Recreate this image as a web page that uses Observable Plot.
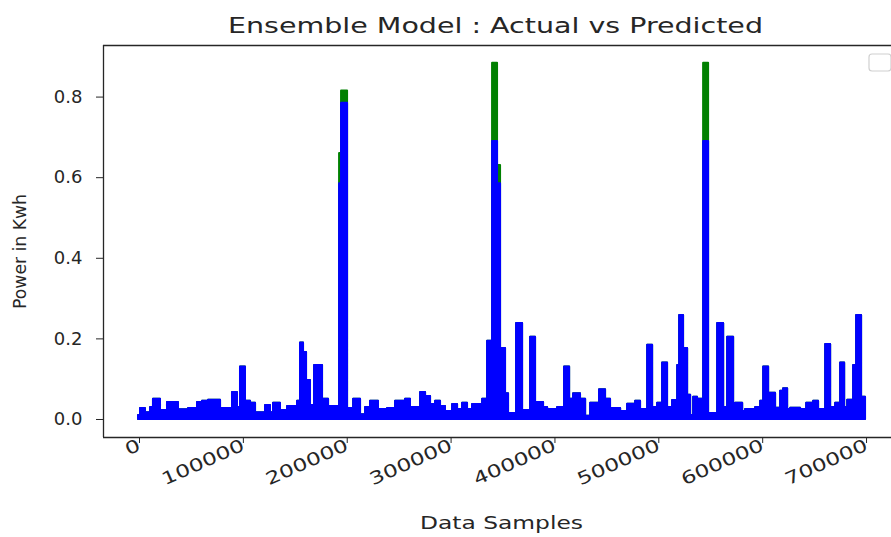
<!DOCTYPE html>
<html>
<head>
<meta charset="utf-8">
<script src="https://cdn.jsdelivr.net/npm/d3@7"></script>
<script src="https://cdn.jsdelivr.net/npm/@observablehq/plot@0.6"></script>
<style>
  html, body { margin: 0; padding: 0; background: #fff; }
  svg { display: block; }
</style>
</head>
<body>
<div id="chart"></div>
<script>
// Sample index (step start) where the plotted envelope changes
const samples = [0, 1900, 6700, 11600, 14400, 21200, 27900, 38500, 48200, 56800,
  61600, 67400, 79000, 90500, 95300, 98200, 103000, 107900, 112700, 122300,
  127100, 130000, 136700, 143500, 153100, 156000, 158900, 161800, 165600, 169500,
  177200, 183000, 193600, 195500, 201300, 207100, 213800, 218600, 223400, 231100,
  239800, 247500, 257100, 261900, 271600, 276400, 281200, 286000, 290800, 295600,
  302400, 307200, 312000, 316800, 321600, 331300, 336100, 340900, 345700, 348600,
  353400, 356300, 364000, 369800, 377500, 382300, 390000, 393900, 403500, 410200,
  415100, 418900, 425600, 430500, 435300, 443900, 449700, 454500, 464200, 470900,
  478600, 483400, 490200, 495000, 499800, 504600, 509400, 514200, 519100, 521000,
  524800, 528700, 531600, 534500, 538300, 544100, 548900, 557600, 563400, 567200,
  573000, 574900, 581700, 584500, 594200, 599000, 601900, 606700, 613400, 618200,
  621100, 625000, 627900, 637500, 643300, 650000, 654800, 661600, 666400, 671200,
  676000, 679900, 682800, 688500, 691400, 696200, 700000];

// Predicted power (blue)
const predicted = [0.010, 0.027, 0.017, 0.030, 0.050, 0.022, 0.042, 0.024, 0.027, 0.042,
  0.045, 0.048, 0.027, 0.067, 0.030, 0.130, 0.045, 0.040, 0.017, 0.035,
  0.017, 0.040, 0.022, 0.032, 0.045, 0.190, 0.166, 0.097, 0.035, 0.134,
  0.050, 0.032, 0.585, 0.785, 0.027, 0.050, 0.012, 0.030, 0.045, 0.025,
  0.027, 0.045, 0.050, 0.030, 0.067, 0.057, 0.037, 0.045, 0.032, 0.020,
  0.037, 0.025, 0.040, 0.025, 0.037, 0.050, 0.194, 0.690, 0.585, 0.176,
  0.064, 0.015, 0.238, 0.022, 0.204, 0.042, 0.030, 0.025, 0.030, 0.130,
  0.050, 0.064, 0.050, 0.008, 0.040, 0.074, 0.050, 0.027, 0.020, 0.038,
  0.045, 0.025, 0.184, 0.030, 0.040, 0.140, 0.030, 0.047, 0.134, 0.258,
  0.176, 0.060, 0.010, 0.055, 0.050, 0.690, 0.015, 0.238, 0.030, 0.204,
  0.025, 0.040, 0.020, 0.025, 0.030, 0.045, 0.130, 0.065, 0.028, 0.070,
  0.076, 0.025, 0.028, 0.025, 0.040, 0.045, 0.025, 0.186, 0.030, 0.040,
  0.140, 0.030, 0.048, 0.134, 0.258, 0.055, 0.055];

// Actual power (green) – equal to predicted except where it exceeds it
const actual = predicted.slice();
const actualPeaks = [[193600, 0.660], [195500, 0.815], [340900, 0.884], [345700, 0.630], [544100, 0.884]];
for (const [s, v] of actualPeaks) actual[samples.indexOf(s)] = v;

const yTicks = [0, 0.2, 0.4, 0.6, 0.8];
const xTicks = [0, 100000, 200000, 300000, 400000, 500000, 600000, 700000];
const titleText = "Ensemble Model : Actual vs Predicted";
const xLabel = "Data Samples";
const yLabel = "Power in Kwh";

const data = samples.map((s, i) => ({sample: s, predicted: predicted[i], actual: actual[i]}));

const xDomain = [-33700, 725000];
const yDomain = [-0.0447, 0.928];
const ink = "#262626";
const font = "DejaVu Sans";

const chart = Plot.plot({
  width: 891,
  height: 537,
  marginLeft: 103,
  marginRight: 0,
  marginTop: 45,
  marginBottom: 100,
  style: {fontFamily: font, color: ink, background: "white", overflow: "visible"},
  x: {domain: xDomain, label: null},
  y: {domain: yDomain, label: null},
  marks: [
    Plot.areaY(data, {x: "sample", y: "actual", curve: "step-after", fill: "#008000", stroke: "#008000", strokeWidth: 2}),
    Plot.areaY(data, {x: "sample", y: "predicted", curve: "step-after", fill: "#0000ff", stroke: "#0000ff", strokeWidth: 2}),
    Plot.ruleX([xDomain[0]], {stroke: ink, strokeWidth: 1.3}),
    Plot.ruleY([yDomain[0], yDomain[1]], {stroke: ink, strokeWidth: 1.3}),
    Plot.axisY({ticks: yTicks, tickFormat: d3.format(".1f"), tickSize: 7, tickPadding: 14, fontSize: 18, stroke: ink, fill: ink, label: null}),
    Plot.axisX({ticks: xTicks, tickFormat: d => String(d), tickSize: 6, tickPadding: 1, tickRotate: -24, fontSize: 17.5, stroke: ink, fill: ink, label: null, dx: 1}),
    Plot.text([titleText], {frameAnchor: "top", dy: -13, dx: -2, lineAnchor: "bottom", fontSize: 22, fill: ink, text: d => d}),
    Plot.text([xLabel], {frameAnchor: "bottom", dy: 91, dx: 4, lineAnchor: "bottom", fontSize: 18, fill: ink, text: d => d}),
    Plot.text([yLabel], {frameAnchor: "left", dx: -78, dy: 10, rotate: -90, textAnchor: "middle", lineAnchor: "bottom", fontSize: 18, fill: ink, text: d => d})
  ]
});

const svg = d3.select(chart);
svg.append("rect").attr("x", 869).attr("y", 54).attr("width", 22).attr("height", 17)
  .attr("rx", 3).attr("fill", "white").attr("stroke", "#d0d0d0").attr("stroke-width", 1.2);

document.getElementById("chart").appendChild(chart);

// Match the reference's wide lettering
svg.selectAll("text").each(function() {
  const t = this.textContent;
  const el = d3.select(this);
  let len = null;
  if (t === titleText) len = 535;
  else if (t === xLabel) len = 163;
  else if (t === yLabel) len = 115;
  else if (/^\d+$/.test(t)) len = this.getComputedTextLength() * 1.32;
  if (len) el.attr("textLength", len).attr("lengthAdjust", "spacingAndGlyphs");
});
</script>
</body>
</html>
